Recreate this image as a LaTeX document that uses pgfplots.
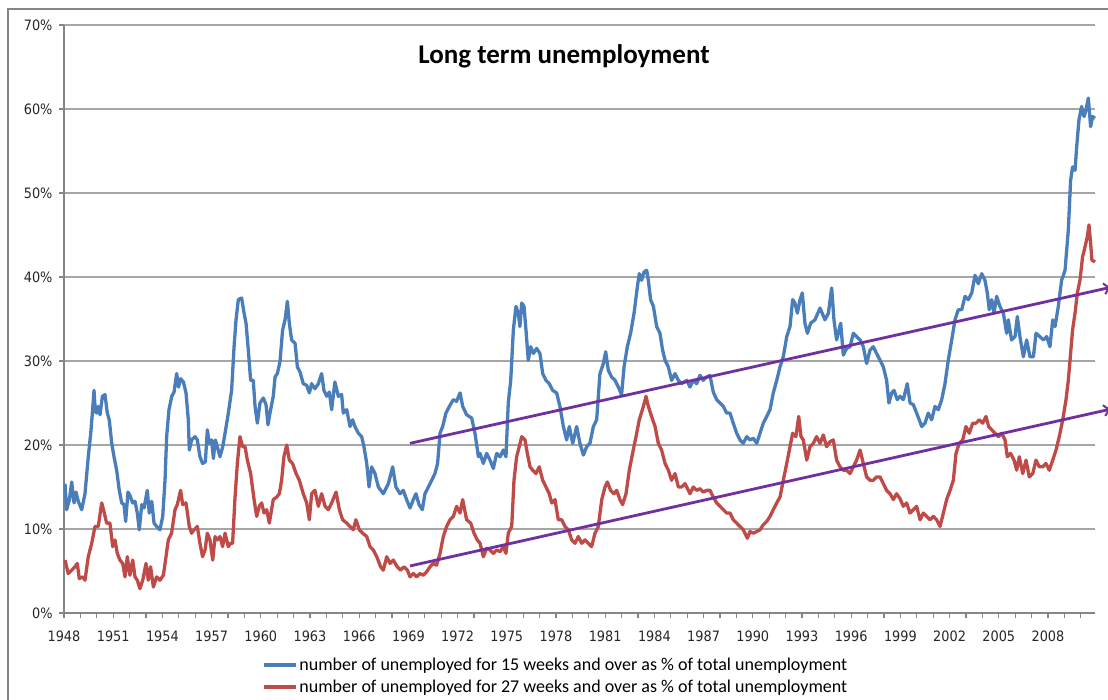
\documentclass[border=0pt]{standalone}
\usepackage{pgfplots}
\pgfplotsset{compat=1.18}
\usepackage{fontspec}
\setmainfont{Carlito}
\newfontfamily\tickfamily[FakeStretch=0.9]{DejaVu Sans}
\usetikzlibrary{arrows.meta}
\definecolor{serblue}{HTML}{4A7EBB}
\definecolor{serred}{HTML}{BE4B48}
\definecolor{trendpurple}{HTML}{7030A0}
\definecolor{gridgray}{HTML}{A6A6A6}
\definecolor{axisgray}{HTML}{868686}
\newcommand{\tickfont}{\tickfamily\fontsize{14.3bp}{17bp}\selectfont}
\newcommand{\legfont}{\fontsize{18bp}{22bp}\selectfont}
\begin{document}
\begin{tikzpicture}
\begin{axis}[
  at={(64bp,87bp)}, anchor=south west,
  scale only axis, width=1031bp, height=588bp,
  xmin=1948, xmax=2010.87, ymin=0, ymax=70,
  axis x line*=bottom, axis y line*=left,
  axis line style={draw=axisgray, line width=1.2bp},
  ytick={0,10,...,70},
  yticklabels={0\%,10\%,20\%,30\%,40\%,50\%,60\%,70\%},
  xtick={1948,1951,...,2008},
  xticklabels={1948,1951,1954,1957,1960,1963,1966,1969,1972,1975,1978,1981,1984,1987,1990,1993,1996,1999,2002,2005,2008},
  minor xtick={1949,1950,1952,1953,1955,1956,1958,1959,1961,1962,1964,1965,1967,1968,1970,1971,1973,1974,1976,1977,1979,1980,1982,1983,1985,1986,1988,1989,1991,1992,1994,1995,1997,1998,2000,2001,2003,2004,2006,2007,2009,2010},
  tick align=outside,
  major tick length=5bp, minor tick length=5bp,
  tick style={draw=axisgray, line width=1.2bp},
  ymajorgrids,
  major grid style={draw=gridgray, line width=1.3bp},
  ticklabel style={font=\tickfont, text=black!85},
  xticklabel style={yshift=-9bp},
  yticklabel style={xshift=-3bp},
  clip=false,
  legend style={at={(axis description cs:0.192,-0.073)}, anchor=north west, draw=none, fill=none, inner sep=0pt, font=\legfont, row sep=4bp},
  legend cell align=left,
  legend image code/.code={\draw[#1] (0bp,0bp) -- (32bp,0bp);},
]
\addplot[serblue, line width=3.3bp, line join=round] coordinates {
(1948.06,15.4) (1948.16,12.3) (1948.33,13.5) (1948.47,15.6) (1948.61,13.1) (1948.73,14.4) (1948.87,13.3) (1949.08,12.3) (1949.28,14.2) (1949.48,18.6) (1949.63,21.4) (1949.73,23.8) (1949.83,26.5) (1949.91,24.0) (1949.99,23.8) (1950.09,24.6) (1950.2,23.6) (1950.34,25.8) (1950.5,26.0) (1950.64,23.8) (1950.76,23.0) (1950.91,20.2) (1951.05,18.6) (1951.21,17.0) (1951.37,14.6) (1951.52,13.1) (1951.66,12.9) (1951.76,10.9) (1951.9,14.4) (1952.02,14.0) (1952.19,13.1) (1952.33,13.3) (1952.47,11.9) (1952.59,9.9) (1952.74,12.9) (1952.88,12.5) (1953.08,14.6) (1953.2,11.9) (1953.35,13.3) (1953.49,10.7) (1953.65,10.3) (1953.85,9.9) (1954.02,11.5) (1954.16,15.8) (1954.26,21.0) (1954.4,24.2) (1954.57,25.8) (1954.71,26.3) (1954.87,28.5) (1954.99,26.9) (1955.11,27.9) (1955.28,27.5) (1955.44,26.2) (1955.58,23.0) (1955.64,19.4) (1955.78,20.6) (1955.99,21.0) (1956.13,20.6) (1956.29,18.6) (1956.45,17.8) (1956.62,18.0) (1956.74,21.8) (1956.86,20.2) (1957.0,20.6) (1957.11,18.4) (1957.23,20.6) (1957.35,19.8) (1957.51,18.6) (1957.68,19.8) (1957.82,21.4) (1958.02,23.8) (1958.22,26.5) (1958.37,31.7) (1958.49,34.9) (1958.63,37.3) (1958.83,37.5) (1958.98,35.7) (1959.1,34.5) (1959.24,31.3) (1959.38,27.7) (1959.54,27.7) (1959.65,24.6) (1959.79,22.6) (1959.95,25.0) (1960.15,25.6) (1960.32,24.8) (1960.44,22.4)
(1960.56,23.8) (1960.76,25.8) (1960.87,28.1) (1961.01,28.5) (1961.17,29.9) (1961.33,33.7) (1961.48,34.9) (1961.62,37.1) (1961.74,34.5) (1961.88,32.5) (1962.09,32.1) (1962.23,29.3) (1962.39,28.7) (1962.59,27.3) (1962.8,27.1) (1962.96,26.2) (1963.1,27.3) (1963.3,26.7) (1963.51,27.3) (1963.71,28.5) (1963.85,26.5) (1964.02,25.8) (1964.18,26.3) (1964.32,24.2) (1964.52,27.5) (1964.73,25.8) (1964.93,26.0) (1965.03,23.8) (1965.24,24.2) (1965.44,22.2) (1965.6,23.0) (1965.74,22.2) (1965.95,21.4) (1966.15,21.0) (1966.29,19.8) (1966.46,17.8) (1966.6,15.0) (1966.76,17.4) (1966.96,16.6) (1967.17,15.0) (1967.47,14.2) (1967.78,15.4) (1968.04,17.4) (1968.24,15.0) (1968.49,14.2) (1968.69,14.6) (1968.89,13.5) (1969.1,12.5) (1969.3,13.5) (1969.46,14.2) (1969.65,12.9) (1969.85,12.3) (1970.01,14.2) (1970.22,15.0) (1970.42,15.8) (1970.62,16.6) (1970.78,17.8) (1970.93,21.4) (1971.09,22.2) (1971.29,23.8) (1971.5,24.6) (1971.74,25.4) (1971.94,25.2) (1972.15,26.2) (1972.31,24.6) (1972.55,23.6) (1972.86,23.2) (1973.06,21.4) (1973.27,18.6)
(1973.37,19.0) (1973.57,17.8) (1973.77,19.0) (1973.98,18.2) (1974.18,17.2) (1974.38,19.0) (1974.59,18.6) (1974.79,19.4) (1974.95,18.6) (1975.09,25.0) (1975.24,27.7) (1975.4,33.7) (1975.56,36.5) (1975.7,35.7) (1975.8,34.1) (1975.91,36.9) (1976.05,36.5) (1976.17,33.7) (1976.31,30.1) (1976.46,31.7) (1976.62,30.9) (1976.82,31.5) (1977.02,30.9) (1977.19,28.5) (1977.39,27.7) (1977.59,27.3) (1977.8,26.5) (1978.04,26.2) (1978.24,24.6) (1978.45,22.2) (1978.65,20.6) (1978.81,22.2) (1979.02,20.2) (1979.26,22.2) (1979.46,20.2) (1979.67,18.8) (1979.87,19.8) (1980.07,20.2) (1980.28,22.2) (1980.48,23.0) (1980.68,28.5) (1980.89,29.7) (1981.03,31.1) (1981.19,28.9) (1981.39,28.1) (1981.6,27.7) (1981.8,26.9) (1982.0,26.0) (1982.15,29.3) (1982.35,31.7) (1982.55,33.3) (1982.76,35.7) (1982.96,38.8) (1983.08,40.4) (1983.22,39.6) (1983.37,40.6) (1983.53,40.8) (1983.63,39.6) (1983.77,37.3) (1983.94,36.5) (1984.14,34.1) (1984.34,33.3) (1984.5,31.3) (1984.65,30.1) (1984.85,29.3) (1985.05,27.7) (1985.26,28.5) (1985.46,27.7) (1985.66,27.3) (1985.97,27.7)
(1986.17,26.9) (1986.37,27.7) (1986.58,27.3) (1986.78,28.3) (1986.98,27.7) (1987.19,28.1) (1987.39,28.3) (1987.59,26.3) (1987.8,25.4) (1988.0,25.0) (1988.2,24.6) (1988.41,23.8) (1988.61,23.8) (1988.81,22.6) (1989.02,21.4) (1989.22,20.6) (1989.42,20.2) (1989.63,21.0) (1989.83,20.6) (1990.03,20.8) (1990.24,20.2) (1990.44,21.4) (1990.64,22.6) (1990.85,23.4) (1991.05,24.2) (1991.25,26.2) (1991.46,27.7) (1991.66,29.3) (1991.86,30.5) (1992.07,32.9) (1992.27,34.1) (1992.43,37.3) (1992.57,36.9) (1992.72,35.7) (1992.88,37.3) (1993.02,38.1) (1993.18,34.5) (1993.33,33.3) (1993.53,34.5) (1993.79,34.9) (1994.1,36.3) (1994.4,34.9) (1994.61,35.7) (1994.81,38.7) (1994.95,34.9) (1995.11,32.5) (1995.36,34.5) (1995.52,30.7) (1995.72,31.5) (1995.93,31.7) (1996.13,33.3) (1996.33,32.9) (1996.54,32.5) (1996.74,31.7) (1996.94,29.7) (1997.15,31.3) (1997.35,31.7) (1997.55,30.9) (1997.76,30.1) (1997.96,29.3) (1998.16,27.7) (1998.3,25.0) (1998.47,26.2) (1998.61,26.5) (1998.81,25.4)
(1998.98,25.8) (1999.18,25.4) (1999.42,27.3) (1999.59,25.0) (1999.79,24.8) (1999.99,23.8) (2000.15,23.0) (2000.3,22.2) (2000.5,22.6) (2000.7,23.8) (2000.91,23.0) (2001.11,24.6) (2001.31,24.2) (2001.52,25.4) (2001.72,27.3) (2001.92,30.1) (2002.13,32.5) (2002.33,34.9) (2002.53,36.1) (2002.74,36.1) (2002.94,37.7) (2003.14,37.3) (2003.35,38.1) (2003.55,40.2) (2003.75,39.2) (2003.96,40.4) (2004.16,39.6) (2004.3,38.1) (2004.42,36.1) (2004.57,37.3) (2004.71,35.7) (2004.87,37.7) (2005.07,36.5) (2005.28,35.7) (2005.48,33.3) (2005.58,34.9) (2005.78,32.5) (2005.99,32.9) (2006.13,35.3) (2006.29,32.9) (2006.5,30.5) (2006.7,32.5) (2006.9,30.5) (2007.11,30.5) (2007.27,33.3) (2007.51,32.9) (2007.72,32.5) (2007.92,32.9) (2008.12,31.7) (2008.29,34.9) (2008.43,34.1) (2008.63,36.5) (2008.83,39.6) (2009.04,40.8) (2009.24,45.6) (2009.38,51.5) (2009.5,53.1) (2009.65,52.7) (2009.75,55.5) (2009.89,58.7) (2010.05,60.3) (2010.2,59.1) (2010.32,59.9) (2010.46,61.3) (2010.6,57.9) (2010.72,59.1) (2010.87,58.9)
};
\addlegendentry{number of unemployed for 15 weeks and over as \% of total unemployment}
\addplot[serred, line width=3.3bp, line join=round] coordinates {
(1948.06,6.3) (1948.26,4.7) (1948.47,5.1) (1948.67,5.5) (1948.81,5.9) (1948.93,4.1) (1949.14,4.3) (1949.28,3.9) (1949.48,6.7) (1949.69,8.3) (1949.89,10.3) (1950.09,10.3) (1950.3,13.1) (1950.46,11.9) (1950.6,10.7) (1950.8,10.7) (1950.97,7.9) (1951.11,8.7) (1951.25,7.1) (1951.41,6.3) (1951.58,5.9) (1951.72,4.3) (1951.86,6.7) (1952.02,4.5) (1952.19,6.3) (1952.33,4.3) (1952.47,3.9) (1952.63,2.9) (1952.8,3.9) (1953.0,5.9) (1953.14,3.9) (1953.28,5.5) (1953.45,3.1) (1953.65,4.3) (1953.85,3.9) (1954.06,4.5) (1954.22,6.7) (1954.36,8.7) (1954.56,9.5) (1954.77,12.3) (1954.91,12.9) (1955.11,14.6) (1955.24,12.9) (1955.44,13.1) (1955.64,10.3) (1955.78,9.5) (1955.93,9.9) (1956.13,10.3) (1956.29,8.3) (1956.45,6.7) (1956.6,7.5) (1956.74,9.5) (1956.9,8.7) (1957.07,6.3) (1957.21,9.1) (1957.35,8.7) (1957.51,9.1) (1957.67,7.9) (1957.82,9.5) (1958.02,7.9) (1958.16,8.3) (1958.28,8.3) (1958.43,13.8) (1958.57,17.8) (1958.73,21.0) (1958.89,19.8) (1959.04,19.8) (1959.18,18.2) (1959.38,16.6) (1959.59,13.5) (1959.75,11.5) (1959.91,12.7) (1960.05,13.1) (1960.2,11.9) (1960.36,12.3) (1960.52,10.7)
(1960.76,13.5) (1960.97,13.8) (1961.13,14.2) (1961.27,15.8) (1961.41,18.6) (1961.58,20.0) (1961.74,18.2) (1961.94,17.8) (1962.15,16.6) (1962.35,15.8) (1962.59,14.2) (1962.8,13.1) (1962.96,11.1) (1963.1,14.2) (1963.3,14.6) (1963.51,12.7) (1963.71,14.2) (1963.92,12.7) (1964.12,12.3) (1964.32,13.1) (1964.59,14.4) (1964.79,12.3) (1964.99,11.1) (1965.24,10.7) (1965.44,10.3) (1965.64,9.9) (1965.8,11.1) (1966.01,9.9) (1966.21,9.5) (1966.46,9.1) (1966.66,7.9) (1966.86,7.5) (1967.07,6.7) (1967.31,5.5) (1967.47,5.1) (1967.68,6.7) (1967.88,5.9) (1968.08,6.3) (1968.32,5.5) (1968.53,5.1) (1968.73,5.5) (1968.94,5.1) (1969.1,4.3) (1969.3,4.7) (1969.5,4.3) (1969.71,4.7) (1969.91,4.5) (1970.11,4.9) (1970.32,5.5) (1970.52,5.9) (1970.72,5.7) (1970.93,7.1) (1971.13,9.1) (1971.33,10.3) (1971.54,11.1) (1971.74,11.5) (1971.94,12.7) (1972.15,11.9) (1972.31,13.5) (1972.55,11.1) (1972.8,10.7) (1973.0,9.5) (1973.2,8.7)
(1973.37,8.3) (1973.57,6.7) (1973.77,7.7) (1973.98,7.5) (1974.18,7.1) (1974.38,7.5) (1974.59,7.3) (1974.79,7.9) (1974.95,7.1) (1975.09,9.5) (1975.3,10.3) (1975.44,15.8) (1975.6,18.6) (1975.76,19.8) (1975.91,21.0) (1976.11,20.6) (1976.25,19.0) (1976.42,17.4) (1976.58,17.0) (1976.78,16.6) (1976.98,17.4) (1977.19,15.8) (1977.39,15.0) (1977.59,14.2) (1977.74,13.1) (1977.94,13.5) (1978.14,11.1) (1978.35,11.1) (1978.55,10.3) (1978.75,9.9) (1978.96,8.7) (1979.16,8.3) (1979.36,9.1) (1979.57,8.3) (1979.77,8.7) (1979.97,8.3) (1980.17,7.9) (1980.38,9.5) (1980.58,10.3) (1980.79,13.5) (1980.99,15.0) (1981.13,15.6) (1981.33,14.6) (1981.54,14.2) (1981.7,14.6) (1981.9,13.5) (1982.06,12.9) (1982.27,14.2) (1982.47,17.0) (1982.67,19.0) (1982.88,21.0) (1983.08,23.0) (1983.33,24.6) (1983.49,25.8) (1983.63,24.6) (1983.83,23.4) (1984.04,22.2) (1984.24,20.2) (1984.44,19.4) (1984.65,17.8) (1984.85,17.0) (1985.05,15.8) (1985.26,16.6) (1985.46,15.0) (1985.66,15.0) (1985.87,15.4)
(1986.17,14.2) (1986.37,15.0) (1986.58,14.6) (1986.78,14.8) (1986.98,14.4) (1987.19,14.6) (1987.39,14.6) (1987.59,13.8) (1987.8,13.1) (1988.0,12.7) (1988.2,12.3) (1988.41,11.9) (1988.61,11.9) (1988.81,11.1) (1989.02,10.7) (1989.22,10.3) (1989.42,9.9) (1989.67,8.9) (1989.83,9.7) (1990.03,9.5) (1990.24,9.7) (1990.44,9.9) (1990.64,10.5) (1990.85,10.9) (1991.05,11.5) (1991.25,12.3) (1991.46,13.1) (1991.66,13.8) (1991.86,15.8) (1992.07,17.8) (1992.27,19.8) (1992.43,21.4) (1992.63,21.0) (1992.8,23.4) (1992.94,21.0) (1993.08,20.6) (1993.29,18.2) (1993.49,19.8) (1993.69,20.2) (1993.89,21.0) (1994.1,20.2) (1994.3,21.2) (1994.5,19.8) (1994.71,20.4) (1994.91,20.6) (1995.11,18.2) (1995.32,17.4) (1995.52,17.0) (1995.72,17.0) (1995.93,16.6) (1996.13,17.4) (1996.33,18.2) (1996.54,19.4) (1996.74,17.8) (1996.94,16.2) (1997.15,15.8) (1997.35,15.8) (1997.55,16.2) (1997.76,16.2) (1997.96,15.4) (1998.16,14.6) (1998.37,14.2) (1998.57,13.5) (1998.77,14.2)
(1998.98,13.6) (1999.18,12.7) (1999.38,13.1) (1999.59,11.9) (1999.79,12.3) (1999.99,12.7) (2000.2,11.1) (2000.4,11.9) (2000.6,11.5) (2000.8,11.1) (2001.01,11.5) (2001.21,11.1) (2001.42,10.3) (2001.62,11.9) (2001.82,13.5) (2002.03,14.6) (2002.23,15.8) (2002.39,19.0) (2002.59,20.2) (2002.8,20.6) (2003.0,22.2) (2003.2,21.4) (2003.41,22.6) (2003.61,22.6) (2003.81,23.0) (2004.02,22.6) (2004.22,23.4) (2004.38,22.2) (2004.57,21.8) (2004.77,21.4) (2004.97,21.0) (2005.18,21.4) (2005.38,20.6) (2005.52,18.6) (2005.72,19.0) (2005.93,18.2) (2006.09,17.0) (2006.25,18.6) (2006.46,16.6) (2006.66,18.2) (2006.86,16.2) (2007.07,16.6) (2007.27,18.2) (2007.47,17.4) (2007.68,17.4) (2007.88,17.8) (2008.08,17.0) (2008.29,18.2) (2008.49,19.4) (2008.69,21.0) (2008.9,23.0) (2009.1,25.4) (2009.24,27.7) (2009.38,30.9) (2009.5,33.7) (2009.65,35.7) (2009.79,38.1) (2009.95,39.6) (2010.11,42.4) (2010.26,43.6) (2010.4,44.8) (2010.5,46.2) (2010.6,44.0) (2010.68,42.0) (2010.87,41.8)
};
\addlegendentry{number of unemployed for 27 weeks and over as \% of total unemployment}
\addplot[trendpurple, line width=2.8bp, -{Straight Barb[length=5bp,width=11bp,line width=2bp]}, forget plot] coordinates {(1969.1,20.2) (2011.8,38.76)};
\addplot[trendpurple, line width=2.8bp, -{Straight Barb[length=5bp,width=11bp,line width=2bp]}, forget plot] coordinates {(1969.1,5.6) (2011.8,24.26)};
\end{axis}
\node[font=\fontsize{27bp}{32bp}\selectfont\bfseries, anchor=center] at (564bp,644bp) {Long term unemployment};
\draw[axisgray, line width=1.2bp] (8bp,-20bp) -- (8bp,691bp) -- (1130bp,691bp);
\pgfresetboundingbox
\useasboundingbox (0,0) rectangle (1108bp,700bp);
\end{tikzpicture}
\end{document}
